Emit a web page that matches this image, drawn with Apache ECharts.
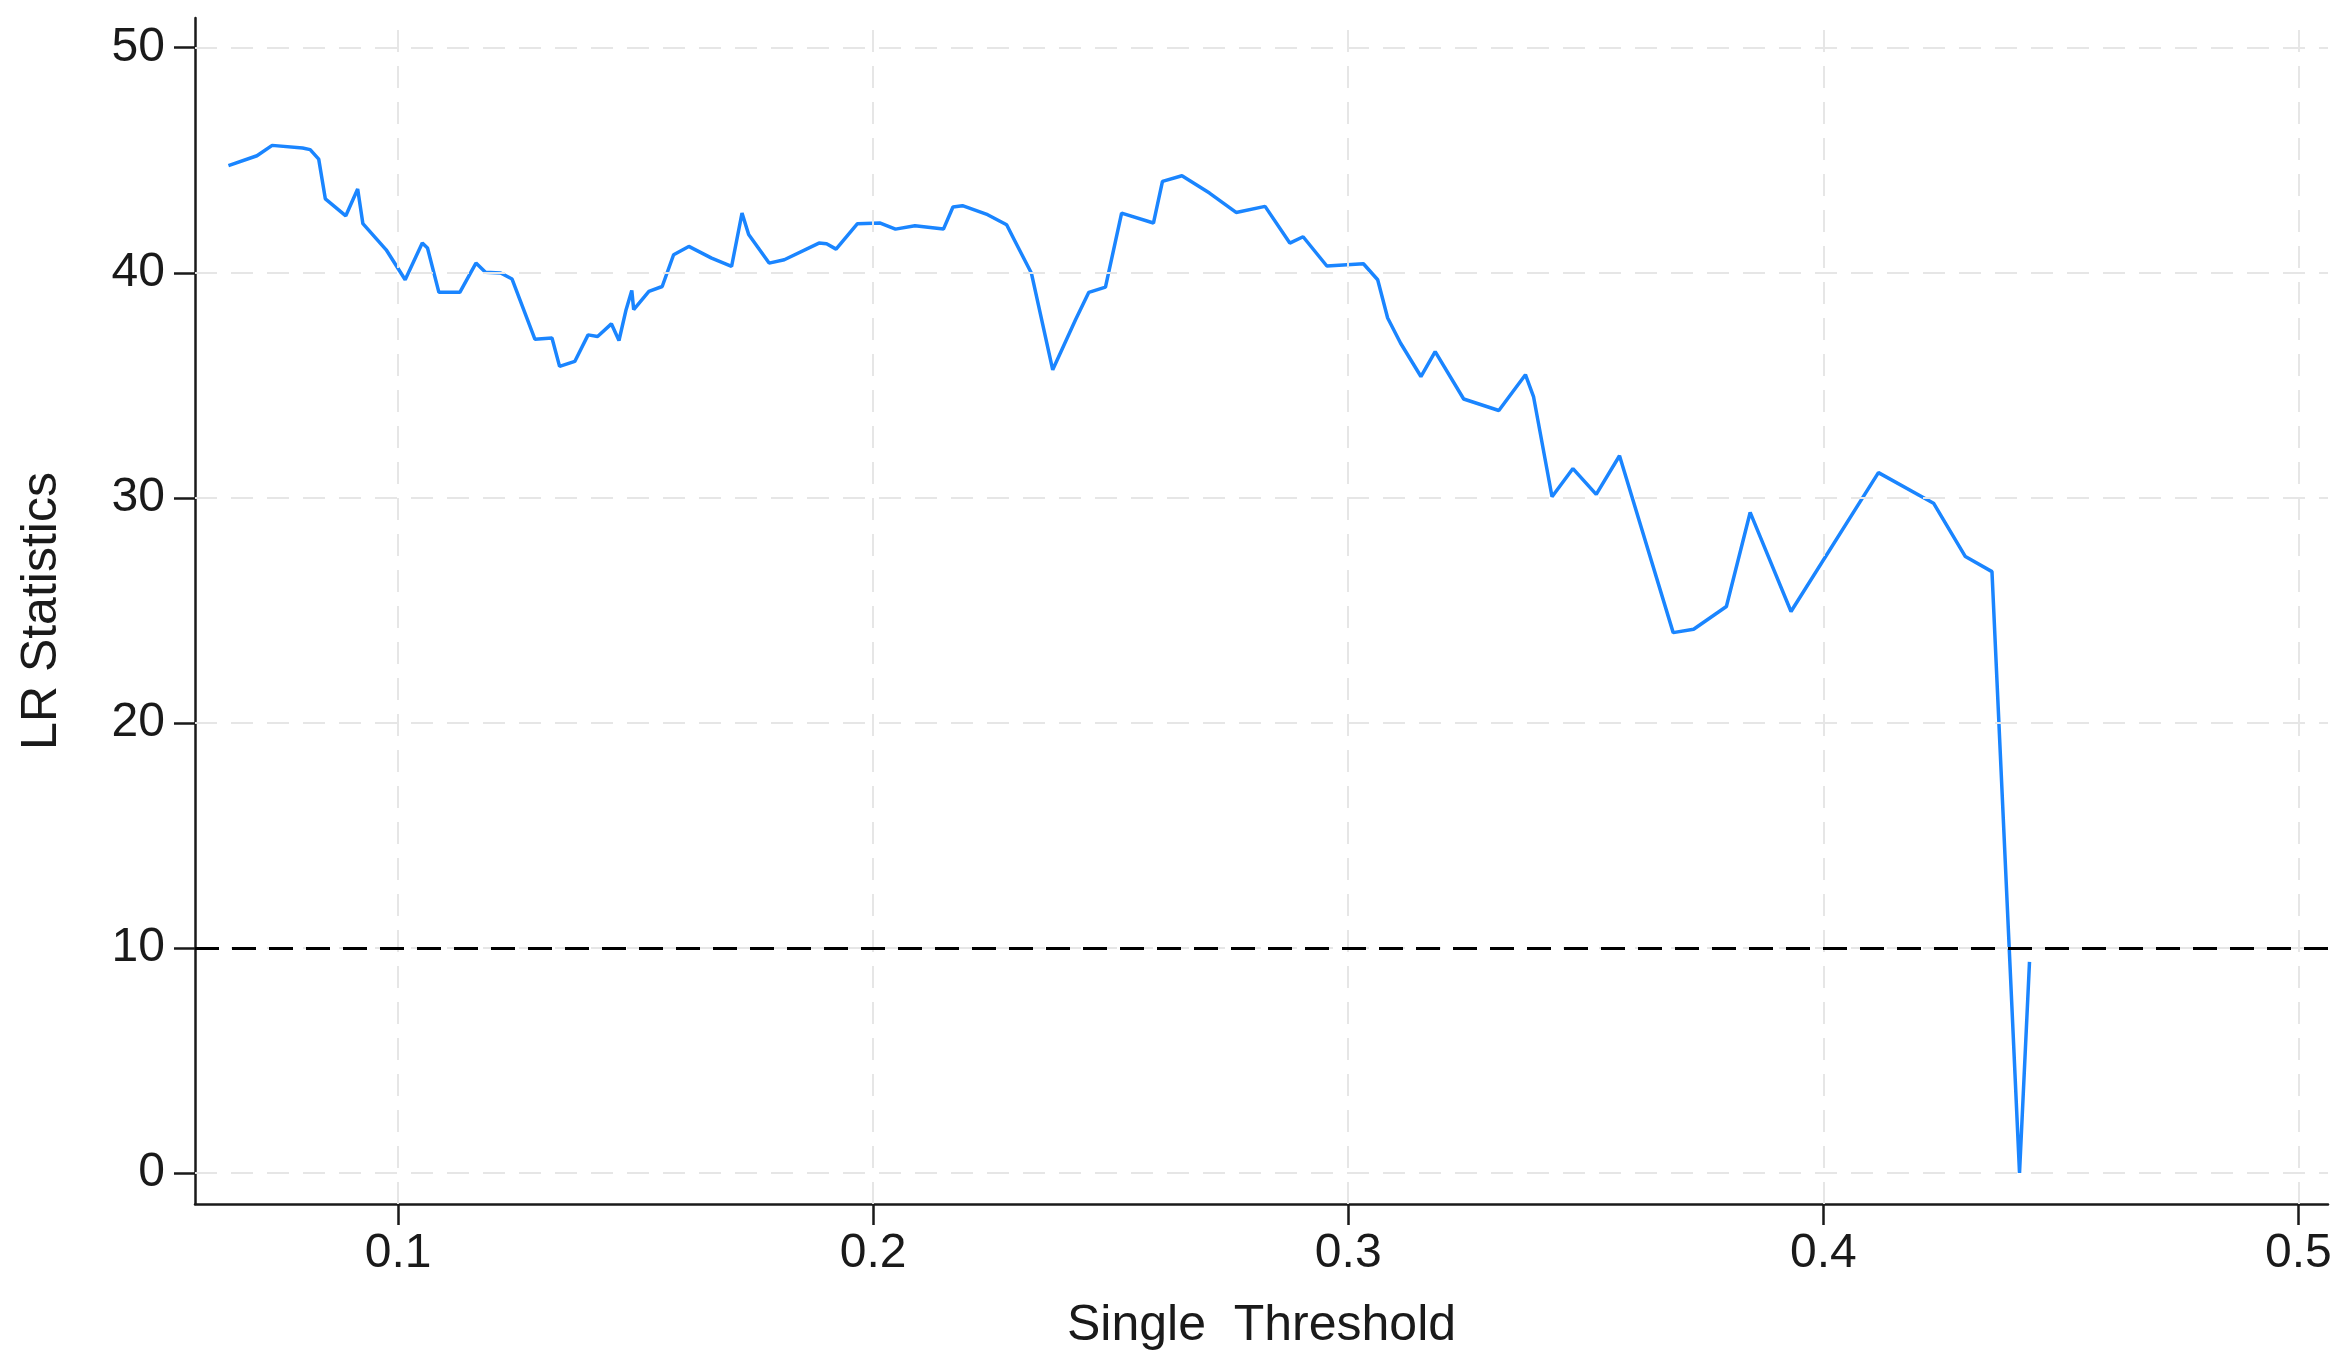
<!DOCTYPE html>
<html>
<head>
<meta charset="utf-8">
<script src="https://cdn.jsdelivr.net/npm/echarts@6/dist/echarts.min.js"></script>
<style>
html,body{margin:0;padding:0;background:#fff;}
#chart{width:2348px;height:1366px;}
</style>
</head>
<body>
<div id="chart"></div>
<script>
const thresholds = [0.0643,0.0703,0.0735,0.0799,0.0815,0.0833,0.0847,0.0890,0.0915,0.0926,0.0975,0.1015,0.1051,0.1062,0.1086,0.1130,0.1164,0.1184,0.1216,0.1240,0.1288,0.1324,0.1340,0.1372,0.1400,0.1420,0.1449,0.1465,0.1480,0.1492,0.1496,0.1528,0.1556,0.1580,0.1612,0.1660,0.1702,0.1724,0.1738,0.1781,0.1813,0.1886,0.1902,0.1922,0.1967,0.2015,0.2047,0.2088,0.2148,0.2168,0.2188,0.2241,0.2281,0.2297,0.2333,0.2378,0.2426,0.2454,0.2489,0.2523,0.2590,0.2609,0.2650,0.2708,0.2764,0.2825,0.2877,0.2905,0.2955,0.3032,0.3062,0.3083,0.3110,0.3153,0.3183,0.3243,0.3317,0.3373,0.3390,0.3429,0.3473,0.3522,0.3571,0.3684,0.3727,0.3796,0.3846,0.3932,0.4116,0.4232,0.4299,0.4355,0.4413,0.4434];
const lrStats = [44.76,45.20,45.66,45.54,45.47,45.05,43.28,42.53,43.72,42.18,41.02,39.69,41.32,41.10,39.13,39.13,40.43,40.02,39.99,39.72,37.05,37.10,35.84,36.06,37.24,37.17,37.73,36.99,38.36,39.21,38.36,39.17,39.39,40.80,41.17,40.65,40.28,42.65,41.70,40.43,40.58,41.32,41.29,41.05,42.18,42.21,41.94,42.09,41.94,42.92,42.98,42.58,42.13,41.47,39.99,35.69,37.91,39.13,39.36,42.65,42.21,44.06,44.31,43.54,42.68,42.95,41.32,41.60,40.30,40.40,39.69,37.99,36.88,35.39,36.50,34.39,33.88,35.47,34.50,30.05,31.30,30.15,31.87,24.01,24.16,25.17,29.35,24.95,31.12,29.76,27.39,26.72,0.00,9.38];
const xTicks = [0.1, 0.2, 0.3, 0.4, 0.5];
const yTicks = [0, 10, 20, 30, 40, 50];
const criticalLevel = 10;
const xTitle = 'Single  Threshold';
const yTitle = 'LR Statistics';

const chart = echarts.init(document.getElementById('chart'), null, {renderer: 'canvas'});
const FONT = 'Liberation Sans, Arial, Helvetica, sans-serif';
const AX = '#1a1a1a';
const GRIDC = '#e6e6e6';

const option = {
  backgroundColor: '#ffffff',
  animation: false,
  grid: {left: 195, top: 18, right: 20, bottom: 162, containLabel: false},
  xAxis: {
    type: 'value', min: 0.05726, max: 0.50623,
    name: xTitle, nameLocation: 'middle', nameGap: 97,
    nameTextStyle: {fontFamily: FONT, fontSize: 50, color: AX},
    axisLine: {show: true, onZero: false, lineStyle: {color: AX, width: 2.5}},
    axisTick: {show: true, customValues: xTicks, length: 21, lineStyle: {color: AX, width: 2.5}},
    axisLabel: {show: true, customValues: xTicks, margin: 26, fontFamily: FONT, fontSize: 48, color: AX, formatter: v => String(v)},
    splitLine: {show: false}
  },
  yAxis: {
    type: 'value', min: -1.378, max: 51.32,
    name: yTitle, nameLocation: 'middle', nameGap: 128,
    nameTextStyle: {fontFamily: FONT, fontSize: 50, color: AX},
    axisLine: {show: true, onZero: false, lineStyle: {color: AX, width: 2.5}},
    axisTick: {show: true, customValues: yTicks, length: 21, lineStyle: {color: AX, width: 2.5}},
    axisLabel: {show: true, customValues: yTicks, margin: 30, fontFamily: FONT, fontSize: 48, color: AX, formatter: v => String(v)},
    splitLine: {show: false}
  },
  series: [
    {
      type: 'line', data: [], z: 1, silent: true,
      markLine: {
        silent: true, symbol: ['none', 'none'], animation: false,
        label: {show: false},
        lineStyle: {color: GRIDC, width: 2, type: [22, 14]},
        data: xTicks.map(v => ({xAxis: v})).concat(yTicks.map(v => ({yAxis: v})))
      }
    },
    {
      type: 'line', z: 3, showSymbol: false, symbol: 'none',
      data: thresholds.map((x, i) => [x, lrStats[i]]),
      lineStyle: {color: '#1a85ff', width: 3.5},
      itemStyle: {color: '#1a85ff'}
    },
    {
      type: 'line', data: [], z: 4, silent: true,
      markLine: {
        silent: true, symbol: ['none', 'none'], animation: false,
        label: {show: false},
        lineStyle: {color: '#000000', width: 3, type: [24, 13]},
        data: [{yAxis: criticalLevel}]
      }
    }
  ]
};
chart.setOption(option);
</script>
</body>
</html>
